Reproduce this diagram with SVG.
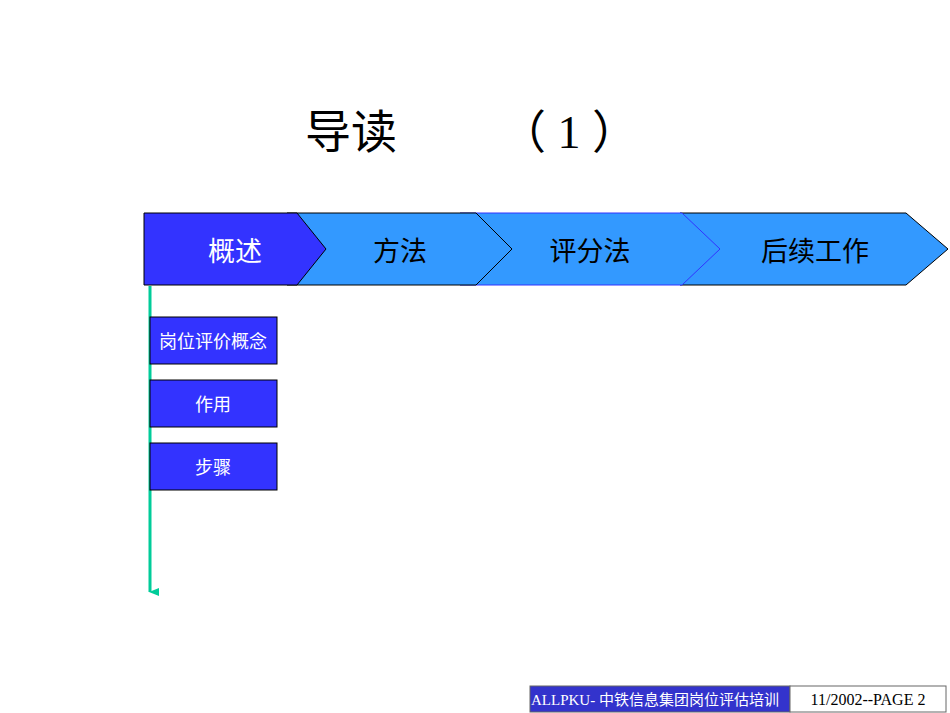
<svg xmlns="http://www.w3.org/2000/svg" width="950" height="713" viewBox="0 0 950 713">
<style>
.cj{font-family:"Liberation Serif","Noto Sans CJK SC",serif}
.cs{font-family:"Noto Sans CJK SC",sans-serif}
.sub{fill:#3333ff;stroke:#000;stroke-width:1}
</style>
<defs><marker id="ah" markerWidth="8" markerHeight="10" refX="4" refY="9" orient="auto" markerUnits="userSpaceOnUse"><path d="M0,0 L8,0 L4,10 Z" fill="#00cc99"/></marker></defs>
<rect width="950" height="713" fill="#fff"/>
<text x="305" y="148" class="cs" font-size="46" fill="#000">导读</text>
<text x="500" y="148" class="cj" font-size="46" fill="#000">（ 1 ）</text>
<g id="chev4"><path d="M680,213 L906,213 L948,249 L906,285 L680,285 Z" fill="#3399ff" stroke="#000"/><text x="815" y="261" class="cs" font-size="27" text-anchor="middle">后续工作</text></g>
<g id="chev3"><path d="M460,213 L682,213 L720,249 L682,285 L460,285 Z" fill="#3399ff" stroke="#3333ff"/><text x="590" y="261" class="cs" font-size="27" text-anchor="middle">评分法</text></g>
<g id="chev2"><path d="M287,213 L476,213 L512,249 L476,285 L287,285 Z" fill="#3399ff" stroke="#000"/><text x="400" y="261" class="cs" font-size="27" text-anchor="middle">方法</text></g>
<g id="chev1"><path d="M144,213 L297,213 L326,249 L297,285 L144,285 Z" fill="#3333ff" stroke="#000"/><text x="235" y="261" class="cs" font-size="27" fill="#fff" text-anchor="middle">概述</text></g>
<g id="connectors"><line x1="150" y1="286" x2="150" y2="592" stroke="#00cc99" stroke-width="3" marker-end="url(#ah)"/></g>
<g id="n1"><rect x="150" y="317" width="127" height="47" class="sub"/><text x="213" y="348" class="cs" font-size="18" fill="#fff" text-anchor="middle">岗位评价概念</text></g>
<g id="n2"><rect x="150" y="380" width="127" height="47" class="sub"/><text x="213" y="411" class="cs" font-size="18" fill="#fff" text-anchor="middle">作用</text></g>
<g id="n3"><rect x="150" y="443" width="127" height="47" class="sub"/><text x="213" y="474" class="cs" font-size="18" fill="#fff" text-anchor="middle">步骤</text></g>
<g id="footer">
<rect x="530" y="686" width="260" height="26" fill="#3333cc" stroke="#666"/>
<text x="531" y="705" class="cj" font-size="15" fill="#fff">ALLPKU- 中铁信息集团岗位评估培训</text>
<rect x="790" y="686" width="156" height="26" fill="#fff" stroke="#666"/>
<text x="868" y="705" class="cj" font-size="16" text-anchor="middle">11/2002--PAGE 2</text>
</g>
</svg>
